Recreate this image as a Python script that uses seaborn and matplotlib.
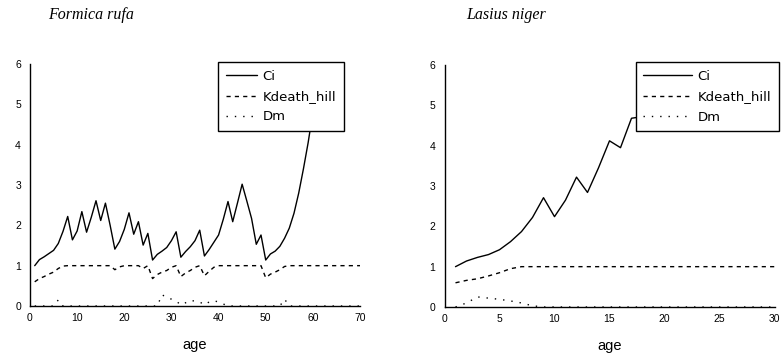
import matplotlib
matplotlib.use("Agg")
import matplotlib.pyplot as plt
import seaborn as sns
import numpy as np
import pandas as pd
from matplotlib.ticker import MultipleLocator

# ---------------- data ----------------
# Formica rufa
fr_age_ci = list(range(1, 63))
fr_ci = [1.00, 1.15, 1.22, 1.30, 1.38, 1.55, 1.85, 2.22, 1.64, 1.86,
         2.34, 1.83, 2.20, 2.61, 2.12, 2.55, 2.00, 1.41, 1.60, 1.90,
         2.31, 1.78, 2.09, 1.51, 1.80, 1.14, 1.28, 1.36, 1.45, 1.62,
         1.84, 1.21, 1.35, 1.47, 1.62, 1.88, 1.24, 1.40, 1.58, 1.76,
         2.15, 2.59, 2.09, 2.55, 3.02, 2.60, 2.17, 1.53, 1.76, 1.14,
         1.29, 1.36, 1.48, 1.68, 1.93, 2.30, 2.80, 3.40, 4.05, 4.80,
         5.60, 6.50]
fr_age_k = list(range(1, 71))
fr_kdeath = [0.60, 0.68, 0.73, 0.79, 0.84, 0.93, 0.99, 1.00, 1.00, 1.00,
             1.00, 1.00, 1.00, 1.00, 1.00, 1.00, 1.00, 0.90, 0.97, 1.00,
             1.00, 1.00, 1.00, 0.93, 1.00, 0.68, 0.78, 0.84, 0.88, 0.96,
             1.00, 0.73, 0.82, 0.88, 0.96, 1.00, 0.75, 0.86, 0.96, 1.00,
             1.00, 1.00, 1.00, 1.00, 1.00, 1.00, 1.00, 1.00, 1.00, 0.70,
             0.79, 0.84, 0.90, 0.98, 1.00, 1.00, 1.00, 1.00, 1.00, 1.00,
             1.00, 1.00, 1.00, 1.00, 1.00, 1.00, 1.00, 1.00, 1.00, 1.00]
fr_dm = [0.00, 0.00, 0.00, 0.00, 0.00, 0.15, 0.00, 0.00, 0.00, 0.00,
         0.00, 0.00, 0.00, 0.00, 0.00, 0.00, 0.00, 0.00, 0.00, 0.00,
         0.00, 0.00, 0.00, 0.00, 0.00, 0.00, 0.00, 0.28, 0.21, 0.17,
         0.12, 0.03, 0.08, 0.14, 0.12, 0.10, 0.03, 0.10, 0.13, 0.10,
         0.05, 0.00, 0.00, 0.00, 0.00, 0.00, 0.00, 0.00, 0.00, 0.00,
         0.00, 0.00, 0.00, 0.17, 0.00, 0.00, 0.00, 0.00, 0.00, 0.00,
         0.00, 0.00, 0.00, 0.00, 0.00, 0.00, 0.00, 0.00, 0.00, 0.00]

# Lasius niger
ln_age_ci = list(range(1, 22))
ln_ci = [1.00, 1.14, 1.23, 1.30, 1.42, 1.62, 1.87, 2.22, 2.71, 2.24,
         2.65, 3.22, 2.84, 3.45, 4.12, 3.95, 4.68, 4.72, 5.30, 5.90, 6.60]
ln_age_k = list(range(1, 31))
ln_kdeath = [0.60, 0.66, 0.70, 0.77, 0.85, 0.95, 1.00, 1.00, 1.00, 1.00,
             1.00, 1.00, 1.00, 1.00, 1.00, 1.00, 1.00, 1.00, 1.00, 1.00,
             1.00, 1.00, 1.00, 1.00, 1.00, 1.00, 1.00, 1.00, 1.00, 1.00]
ln_dm = [0.00, 0.10, 0.25, 0.22, 0.19, 0.15, 0.10, 0.03, 0.00, 0.00,
         0.00, 0.00, 0.00, 0.00, 0.00, 0.00, 0.00, 0.00, 0.00, 0.00,
         0.00, 0.00, 0.00, 0.00, 0.00, 0.00, 0.00, 0.00, 0.00, 0.00]

titles = ["Formica rufa", "Lasius niger"]
series_names = ["Ci", "Kdeath_hill", "Dm"]
xlabel = "age"

# ---------------- plotting ----------------
sns.set_theme(style="white")
plt.rcParams['font.family'] = ['Liberation Sans', 'DejaVu Sans']
plt.rcParams['text.color'] = 'black'
plt.rcParams['axes.labelcolor'] = 'black'
plt.rcParams['xtick.color'] = 'black'
plt.rcParams['ytick.color'] = 'black'

W, H = 781, 357
fig = plt.figure(figsize=(W / 100, H / 100), dpi=100)

def ax_rect(x0, x1, ytop, ybot):
    return [x0 / W, 1 - ybot / H, (x1 - x0) / W, (ybot - ytop) / H]

ax1 = fig.add_axes(ax_rect(30, 360, 64, 306))
ax2 = fig.add_axes(ax_rect(444.5, 774.5, 65, 307))

panels = [
    (ax1, fr_age_ci, fr_ci, fr_age_k, fr_kdeath, fr_dm, 70, 10, 5,
     (0.952, 1.008), 2.4),
    (ax2, ln_age_ci, ln_ci, ln_age_k, ln_kdeath, ln_dm, 30, 5, 2.5,
     (1.014, 1.012), 3.7),
]

for ax, a_ci, ci, a_k, kd, dm, xmax, xmaj, xmin, anchor, hl in panels:
    sns.lineplot(x=a_ci, y=ci, ax=ax, color="black", linewidth=1.0,
                 label=series_names[0])
    l2 = sns.lineplot(x=a_k, y=kd, ax=ax, color="black", linewidth=1.0,
                      label=series_names[1]).lines[-1]
    l2.set_dashes((3, 3))
    l3 = sns.lineplot(x=a_k, y=dm, ax=ax, color="black", linewidth=1.0,
                      label=series_names[2]).lines[-1]
    l3.set_dashes((1, 5))

    ax.set_xlim(0, xmax)
    ax.set_ylim(0, 6)
    ax.xaxis.set_major_locator(MultipleLocator(xmaj))
    ax.xaxis.set_minor_locator(MultipleLocator(xmin))
    ax.yaxis.set_major_locator(MultipleLocator(1))
    ax.yaxis.set_minor_locator(MultipleLocator(0.5))
    for s in ["top", "right"]:
        ax.spines[s].set_visible(False)
    for s in ["left", "bottom"]:
        ax.spines[s].set_color("black")
        ax.spines[s].set_linewidth(1.0)
    ax.tick_params(axis="both", which="both", colors="black",
                   labelcolor="black", labelsize=7.5, width=0.8)
    ax.tick_params(axis="y", which="major", direction="out", length=3.5, pad=3)
    ax.tick_params(axis="y", which="minor", direction="in", length=2)
    ax.tick_params(axis="x", which="major", direction="inout", length=4, pad=3)
    ax.tick_params(axis="x", which="minor", direction="inout", length=3)
    ax.set_xlabel(xlabel, fontsize=10.5, labelpad=11, color="black")
    ax.set_ylabel("")
    ax.grid(False)

    leg = ax.legend(loc="upper right", bbox_to_anchor=anchor,
                    borderaxespad=0, frameon=True, fancybox=False,
                    framealpha=1.0, edgecolor="black",
                    prop={"family": "DejaVu Sans", "size": 9.5},
                    handlelength=hl, handletextpad=0.4,
                    labelspacing=0.55, borderpad=0.6)
    leg.get_frame().set_linewidth(1.0)
    for t in leg.get_texts():
        t.set_color("black")

fig.text(48 / W, 1 - 15 / H, titles[0], fontsize=11.5, style="italic",
         family=["Liberation Serif"], va="center", ha="left", color="black")
fig.text(466 / W, 1 - 15 / H, titles[1], fontsize=11.5, style="italic",
         family=["Liberation Serif"], va="center", ha="left", color="black")

fig.savefig("out.png", dpi=100, facecolor="white")
